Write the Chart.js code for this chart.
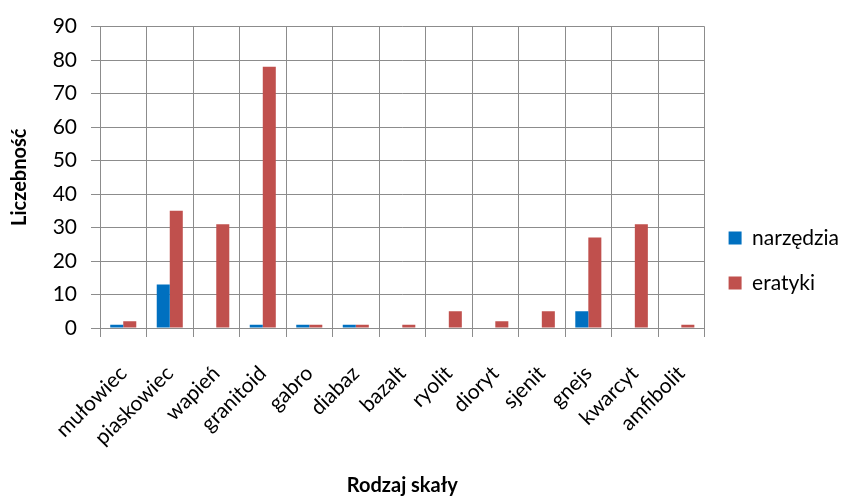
<!DOCTYPE html>
<html>
<head>
<meta charset="utf-8">
<script src="https://cdn.jsdelivr.net/npm/chart.js@4"></script>
<style>
  html, body { margin: 0; padding: 0; background: #fff; }
  #wrap { width: 841px; height: 498px; }
</style>
</head>
<body>
<div id="wrap"><canvas id="rock_chart" width="841" height="498"></canvas></div>
<script>
const categories = ["mułowiec","piaskowiec","wapień","granitoid","gabro","diabaz","bazalt","ryolit","dioryt","sjenit","gnejs","kwarcyt","amfibolit"];
const narzedzia  = [1, 13, 0, 1, 1, 1, 0, 0, 0, 0, 5, 0, 0];
const eratyki    = [2, 35, 31, 78, 1, 1, 1, 5, 2, 5, 27, 31, 1];
const yTicks     = [0, 10, 20, 30, 40, 50, 60, 70, 80, 90];

document.addEventListener("DOMContentLoaded", function() {
  const context = document.getElementById("rock_chart").getContext("2d");
  const font = "Lato, 'Open Sans', sans-serif";
  const chart = new Chart(context, {

    type: "bar",

    data: {
      labels: categories,

      datasets: [{
        label:           "narzędzia",
        data:            narzedzia,
        backgroundColor: "rgb(0, 112, 192)"
      }, {
        label:           "eratyki",
        data:            eratyki,
        backgroundColor: "rgb(192, 80, 77)"
      }]
    },

    options: {
      responsive: false,
      animation: false,
      layout: { padding: { top: 23, left: 0, right: -8, bottom: 0 } },
      datasets: { bar: { barPercentage: 1, categoryPercentage: 0.56 } },
      plugins: {
        tooltip: { enabled: false },
        legend: {
          position: "right",
          labels: {
            boxWidth: 13, boxHeight: 13, padding: 24,
            color: "#000", font: { family: font, size: 21 }
          }
        }
      },
      scales: {
        x: {
          afterFit: function(axis) { axis.height = 170; },
          grid: { color: "#8c8c8c", tickLength: 9 },
          border: { color: "#8c8c8c" },
          ticks: { color: "#000", font: { family: font, size: 21 }, minRotation: 45, maxRotation: 45, padding: 24 },
          title: { display: true, text: "Rodzaj skały", color: "#000", font: { family: font, size: 20, weight: "bold" }, padding: { top: 0, bottom: 0 } }
        },
        y: {
          min: 0, max: 90,
          afterFit: function(axis) { axis.width = 100; },
          afterBuildTicks: function(axis) { axis.ticks = yTicks.map(v => ({ value: v })); },
          grid: { color: "#8c8c8c", tickLength: 9 },
          border: { color: "#8c8c8c" },
          ticks: { color: "#000", font: { family: font, size: 21 }, padding: 14 },
          title: { display: true, text: "Liczebność", color: "#000", font: { family: font, size: 20, weight: "bold" }, padding: { top: 8, bottom: 0 } }
        }
      }
    }
  });
});
</script>
</body>
</html>
